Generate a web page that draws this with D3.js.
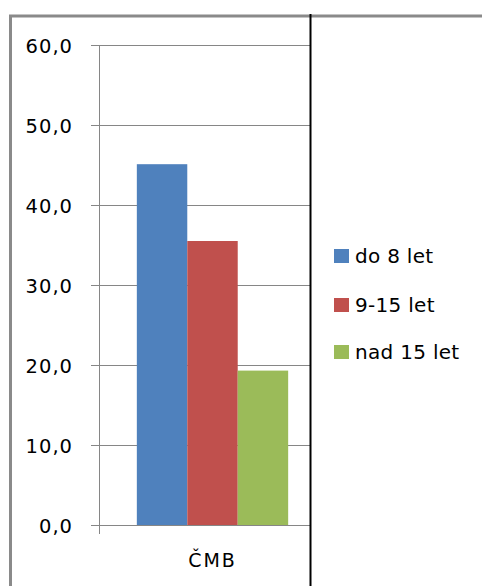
<!DOCTYPE html>
<html>
<head>
<meta charset="utf-8">
<script src="https://cdn.jsdelivr.net/npm/d3@7"></script>
<style>
	body { margin: 0; background: #fff; }
	text { font-family: "DejaVu Sans", sans-serif; fill: #000; }
</style>
</head>
<body>
<svg id="chart"></svg>
<script>
// data
const categories = ["ČMB"];
const seriesNames = ["do 8 let", "9-15 let", "nad 15 let"];
const seriesValues = [45.1, 35.5, 19.3];
const seriesColors = ["#4F81BD", "#C0504D", "#9BBB59"];
const yTicks = [0, 10, 20, 30, 40, 50, 60];

let width = 482, height = 586;
let svg = d3.select("svg#chart")
	.attr("width", width)
	.attr("height", height);

// plot area runs under the black divider, which clips it at x=310
let plot = {left: 99, right: 326, visibleRight: 310, top: 45, bottom: 525};

let y = d3.scaleLinear().domain([0, 60]).range([plot.bottom, plot.top]);
let x0 = d3.scaleBand().domain(categories).range([plot.left, plot.right]).paddingInner(0).paddingOuter(0.25);
let x1 = d3.scaleBand().domain(seriesNames).range([0, x0.bandwidth()]);

// outer frame
svg.append("path")
	.attr("d", `M10.5,${height} L10.5,16 L${width},16`)
	.attr("fill", "none")
	.attr("stroke", "#8a8a8a")
	.attr("stroke-width", 3);

// gridlines + ticks
let yAxis = d3.axisLeft(y)
	.tickValues(yTicks)
	.tickSize(-(plot.visibleRight - plot.left))
	.tickSizeOuter(0)
	.tickPadding(0)
	.tickFormat(d => d3.format(".1f")(d).replace(".", ","));

let gy = svg.append("g")
	.attr("transform", `translate(${plot.left},0)`)
	.call(yAxis);
gy.select(".domain").remove();
gy.selectAll(".tick line")
	.attr("x1", -8)
	.attr("stroke", "#868686");
gy.selectAll(".tick text")
	.attr("x", -26)
	.attr("dy", "0.36em")
	.style("font-size", "19.5px")
	.style("letter-spacing", "1px");

// value axis line (extends down as category tick)
svg.append("line")
	.attr("x1", plot.left + 0.5).attr("x2", plot.left + 0.5)
	.attr("y1", plot.top).attr("y2", plot.bottom + 9)
	.attr("stroke", "#868686");

// bars
svg.append("g").selectAll("rect")
	.data(seriesNames)
	.enter().append("rect")
	.attr("x", d => x0(categories[0]) + x1(d))
	.attr("y", (d, i) => y(seriesValues[i]))
	.attr("width", x1.bandwidth())
	.attr("height", (d, i) => y(0) - y(seriesValues[i]))
	.attr("fill", (d, i) => seriesColors[i]);

// zero line on top
svg.append("line")
	.attr("x1", plot.left - 8).attr("x2", plot.visibleRight)
	.attr("y1", y(0) + 0.5).attr("y2", y(0) + 0.5)
	.attr("stroke", "#868686");

// category label
svg.append("g").selectAll("text")
	.data(categories)
	.enter().append("text")
	.attr("x", d => x0(d) + x0.bandwidth() / 2)
	.attr("y", 567)
	.attr("text-anchor", "middle")
	.style("font-size", "19px")
	.style("letter-spacing", "2px")
	.text(d => d);

// black divider
svg.append("line")
	.attr("x1", 310.5).attr("x2", 310.5)
	.attr("y1", 14).attr("y2", height)
	.attr("stroke", "#000")
	.attr("stroke-width", 2);

// legend
let legendY = [256, 305, 352];
let legend = svg.append("g").selectAll("g")
	.data(seriesNames)
	.enter().append("g")
	.attr("transform", (d, i) => `translate(334,${legendY[i]})`);
legend.append("rect")
	.attr("x", 0).attr("y", -7)
	.attr("width", 15).attr("height", 14)
	.attr("fill", (d, i) => seriesColors[i]);
legend.append("text")
	.attr("x", 21)
	.attr("dy", "0.36em")
	.style("font-size", "20px")
	.style("letter-spacing", "0.3px")
	.text(d => d);
</script>
</body>
</html>
